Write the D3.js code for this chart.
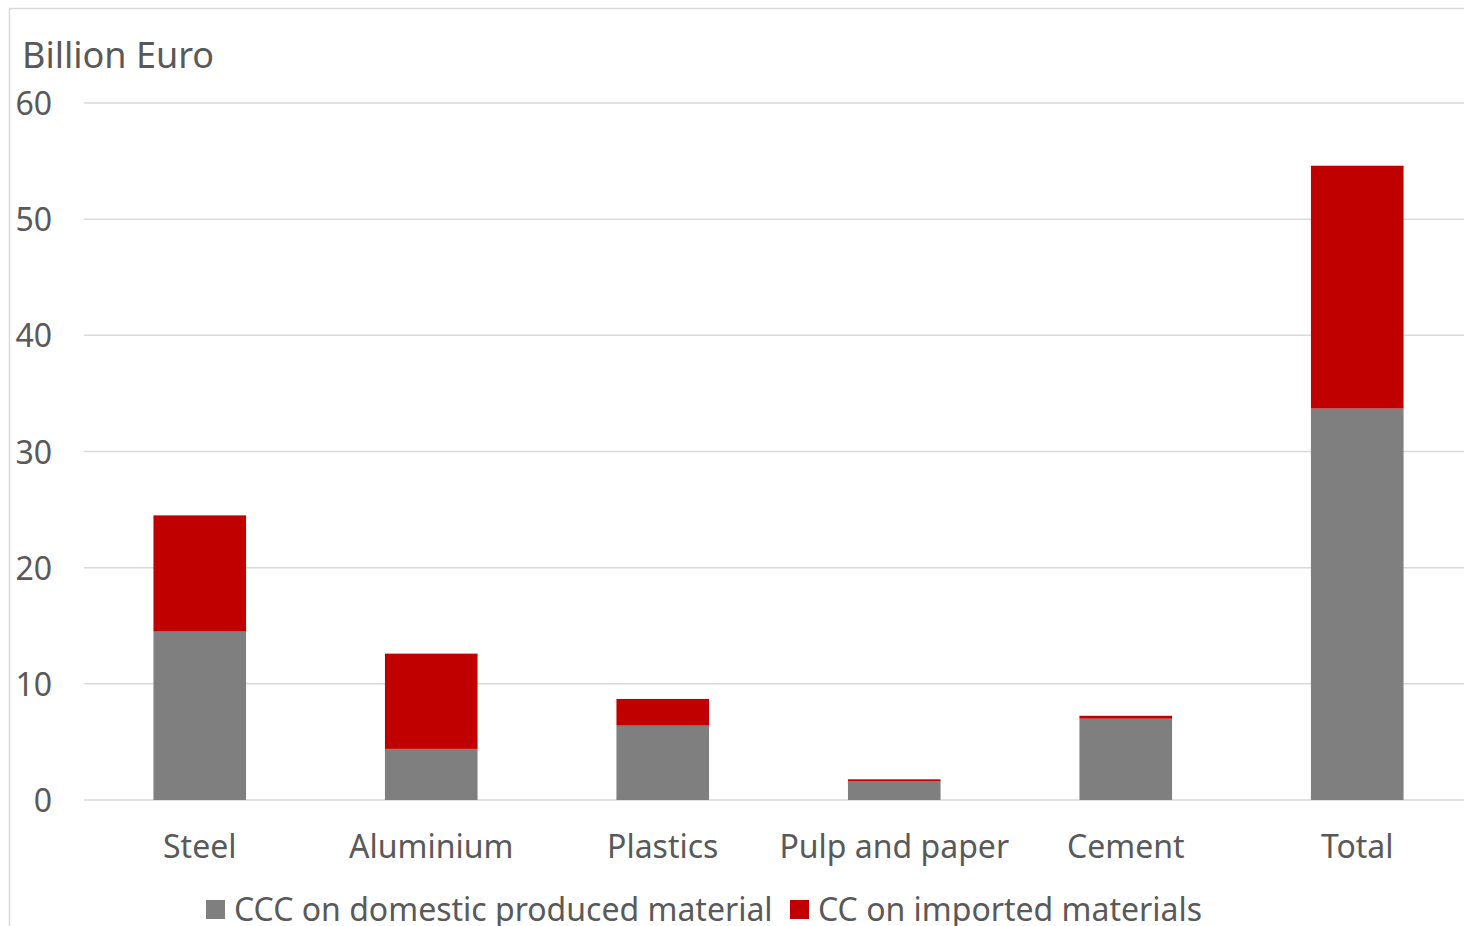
<!DOCTYPE html>
<html>
<head>
<meta charset="utf-8">
<script src="https://cdn.jsdelivr.net/npm/d3@7"></script>
<style>
  body { margin: 0; background: #fff; }
  svg { display: block; }
  text { font-family: "Noto Sans", "Open Sans", sans-serif; fill: #595959; }
</style>
</head>
<body>
<script>
// chart data (billion euro)
var categories = ["Steel", "Aluminium", "Plastics", "Pulp and paper", "Cement", "Total"];
var domestic = [14.5, 4.4, 6.4, 1.6, 7.0, 33.7];
var imported = [10.0, 8.2, 2.3, 0.18, 0.25, 20.9];
var seriesNames = ["CCC on domestic produced material", "CC on imported materials"];
var seriesColors = ["#7f7f7f", "#c00000"];
var yTicks = [0, 10, 20, 30, 40, 50, 60];

var w = 1464, h = 926;
var margin = {top: 103, right: 0, bottom: 126, left: 84};

var svg = d3.select("body").append("svg")
    .attr("width", w)
    .attr("height", h);

// outer chart border
svg.append("rect")
    .attr("x", 9.5).attr("y", 8.5)
    .attr("width", w + 20).attr("height", h + 20)
    .attr("fill", "none")
    .attr("stroke", "#d9d9d9")
    .attr("stroke-width", 1.5);

// plot area runs past the right edge of the picture
var x = d3.scaleBand()
    .domain(categories)
    .range([84, 1473])
    .paddingInner(0.6)
    .paddingOuter(0.3);

var y = d3.scaleLinear()
    .domain([0, 60])
    .range([h - margin.bottom, margin.top]);

// gridlines
svg.append("g")
    .selectAll("line")
    .data(yTicks)
    .enter()
    .append("line")
    .attr("x1", margin.left)
    .attr("x2", w)
    .attr("y1", d => y(d))
    .attr("y2", d => y(d))
    .attr("stroke", "#d9d9d9")
    .attr("stroke-width", 1.5);

// y axis labels
var yAxis = d3.axisLeft(y).tickValues(yTicks).tickSize(0).tickPadding(0);
var yg = svg.append("g")
    .attr("transform", "translate(52,0)")
    .call(yAxis);
yg.select(".domain").remove();
yg.selectAll("text")
    .attr("font-size", "32px")
    .attr("font-family", null)
    .attr("fill", "#595959")
    .attr("dy", "0.36em");

// stacked bars
var rows = categories.map(function(c, i) {
    return {cat: c, domestic: domestic[i], imported: imported[i]};
});
var stack = d3.stack().keys(["domestic", "imported"])(rows);

svg.append("g")
    .selectAll("g")
    .data(stack)
    .enter()
    .append("g")
    .attr("fill", (d, i) => seriesColors[i])
    .selectAll("rect")
    .data(d => d)
    .enter()
    .append("rect")
    .attr("x", d => x(d.data.cat))
    .attr("width", x.bandwidth())
    .attr("y", d => y(d[1]))
    .attr("height", d => y(d[0]) - y(d[1]));

// x axis labels
var xAxis = d3.axisBottom(x).tickSize(0).tickPadding(0);
var xg = svg.append("g")
    .attr("transform", "translate(0," + (h - margin.bottom) + ")")
    .call(xAxis);
xg.select(".domain").remove();
xg.selectAll("text")
    .attr("font-size", "32px")
    .attr("font-family", null)
    .attr("fill", "#595959")
    .attr("dy", null)
    .attr("y", 58);

// axis title
svg.append("text")
    .attr("x", 22)
    .attr("y", 68)
    .attr("font-size", "36px")
    .text("Billion Euro");

// legend
var legendX = [206, 790];
var legend = svg.append("g")
    .selectAll("g")
    .data(seriesNames)
    .enter()
    .append("g")
    .attr("transform", (d, i) => "translate(" + legendX[i] + ",900)");
legend.append("rect")
    .attr("width", 19)
    .attr("height", 19)
    .attr("fill", (d, i) => seriesColors[i]);
legend.append("text")
    .attr("x", 28)
    .attr("y", 21)
    .attr("font-size", "32px")
    .text(d => d);
</script>
</body>
</html>
